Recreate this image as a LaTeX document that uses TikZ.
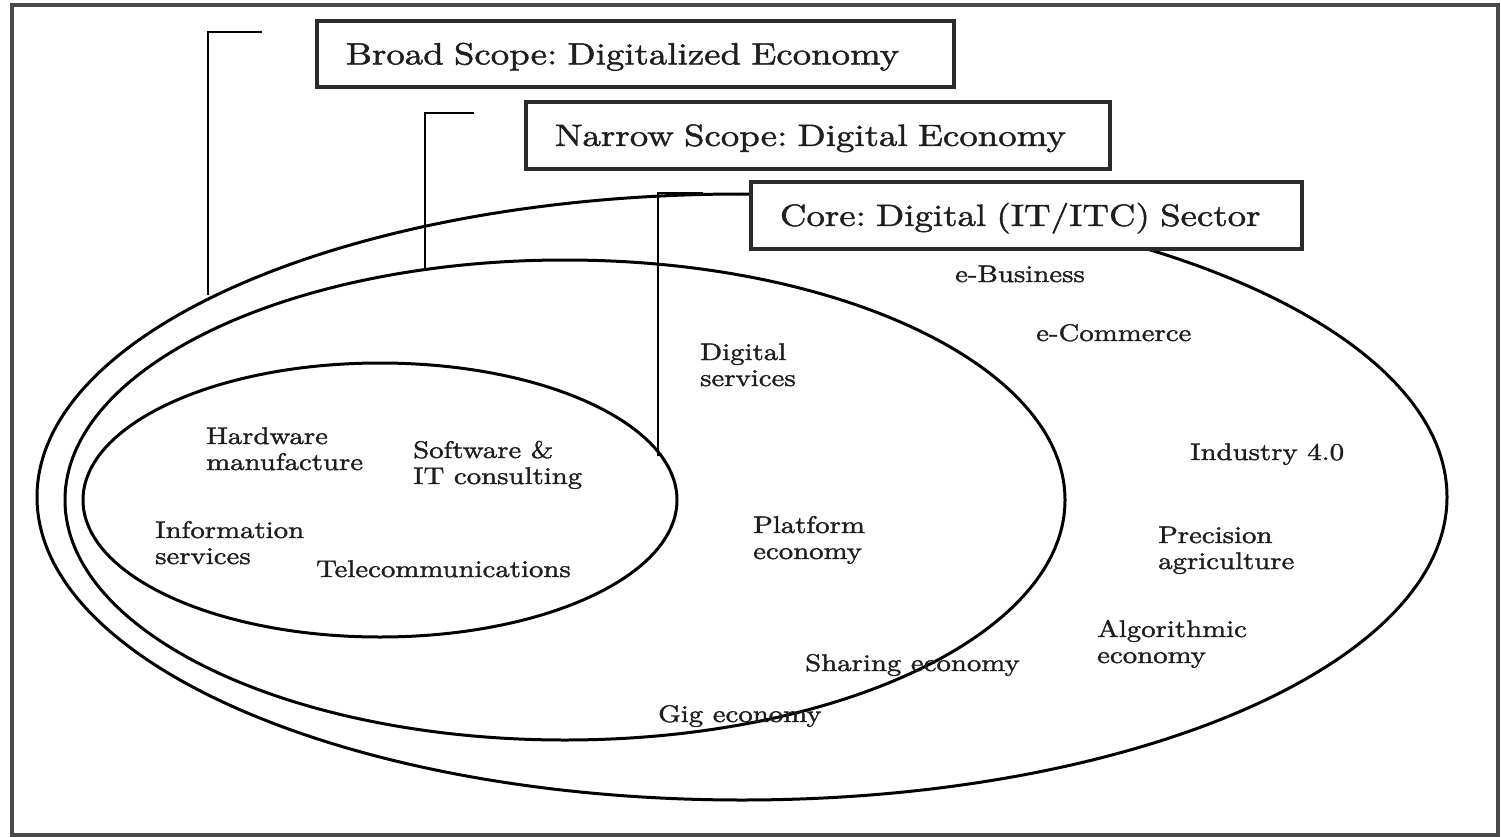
\documentclass[tikz,border=0pt]{standalone}
\usepackage{fontspec}
\setmainfont{lmroman10-regular.otf}[FakeStretch=1.2,FakeBold=1.5]
\usetikzlibrary{shapes.geometric}
\definecolor{txt}{HTML}{1e1e1e}
\definecolor{boxgray}{HTML}{2a2a2a}
\definecolor{framegray}{HTML}{4a4a4a}
\frenchspacing
\newcommand\twoline[2]{\begin{tabular}[t]{@{}l@{}}#1\\#2\end{tabular}}
\tikzset{
  ell/.style={ellipse, draw=black, line width=3pt, inner sep=0pt, outer sep=0pt},
  brk/.style={draw=black, line width=2.8pt},
  scopebox/.style={draw=boxgray, line width=3.8pt, fill=white, anchor=north west,
    inner xsep=29pt, inner ysep=0pt, align=left, text height=21pt, text depth=0pt,
    font=\fontsize{30.7}{34}\selectfont, text=txt},
  lbl/.style={anchor=base west, inner sep=0pt, font=\fontsize{24}{26}\selectfont, text=txt},
}
\begin{document}
\begin{tikzpicture}[x=1pt,y=-1pt]
\useasboundingbox (0,0) rectangle (1501,837);
\fill[white] (0,0) rectangle (1501,837);
\draw[framegray, line width=3.4pt] (12,5) rectangle (1498,835);

% ellipses
\node[ell, minimum width=1410pt, minimum height=606pt] (outer) at (742,497) {};
\node[ell, minimum width=1000pt, minimum height=480pt] (narrow) at (565,500) {};
\node[ell, minimum width=594pt, minimum height=274pt] (core) at (380,500) {};

% brackets
\coordinate (bA) at (262,32);
\coordinate (bB) at (208,32);
\draw[brk] (bA) -- (bB) -- (bB |- outer.159.67);
\coordinate (nA) at (474,113);
\coordinate (nB) at (425,113);
\draw[brk] (nA) -- (nB) -- (nB |- narrow.121.3);
\coordinate (cA) at (703,193);
\coordinate (cB) at (658,193);
\draw[brk] (cA) -- (cB) -- (cB |- core.9.84);

% scope boxes
\node[scopebox, text width=579pt, minimum height=66pt] (broad) at (315,19) {Broad Scope: Digitalized Economy};
\node[scopebox, text width=526pt, minimum height=67pt] (narrowbox) at (524,100) {Narrow Scope: Digital Economy};
\node[scopebox, text width=493pt, minimum height=67pt] (corebox) at (749,180) {Core: Digital (IT/ITC) Sector};

% core labels
\node[lbl] (hw) at (206,444) {\twoline{Hardware}{manufacture}};
\node[lbl] (sw) at (413,458) {\twoline{Software \&}{IT consulting}};
\node[lbl] (info) at (155,538) {\twoline{Information}{services}};
\node[lbl] (tele) at (316,577) {Telecommunications};

% narrow labels
\node[lbl] (dig) at (700,360) {\twoline{Digital}{services}};
\node[lbl] (plat) at (753,533) {\twoline{Platform}{economy}};
\node[lbl] (share) at (805,671) {Sharing economy};
\node[lbl] (gig) at (658,722) {Gig economy};

% broad labels
\node[lbl] (ebus) at (955,282) {e-Business};
\node[lbl] (ecom) at (1036,341) {e-Commerce};
\node[lbl] (ind) at (1190,460) {Industry 4.0};
\node[lbl] (prec) at (1158,543) {\twoline{Precision}{agriculture}};
\node[lbl] (algo) at (1097,637) {\twoline{Algorithmic}{economy}};
\end{tikzpicture}
\end{document}
